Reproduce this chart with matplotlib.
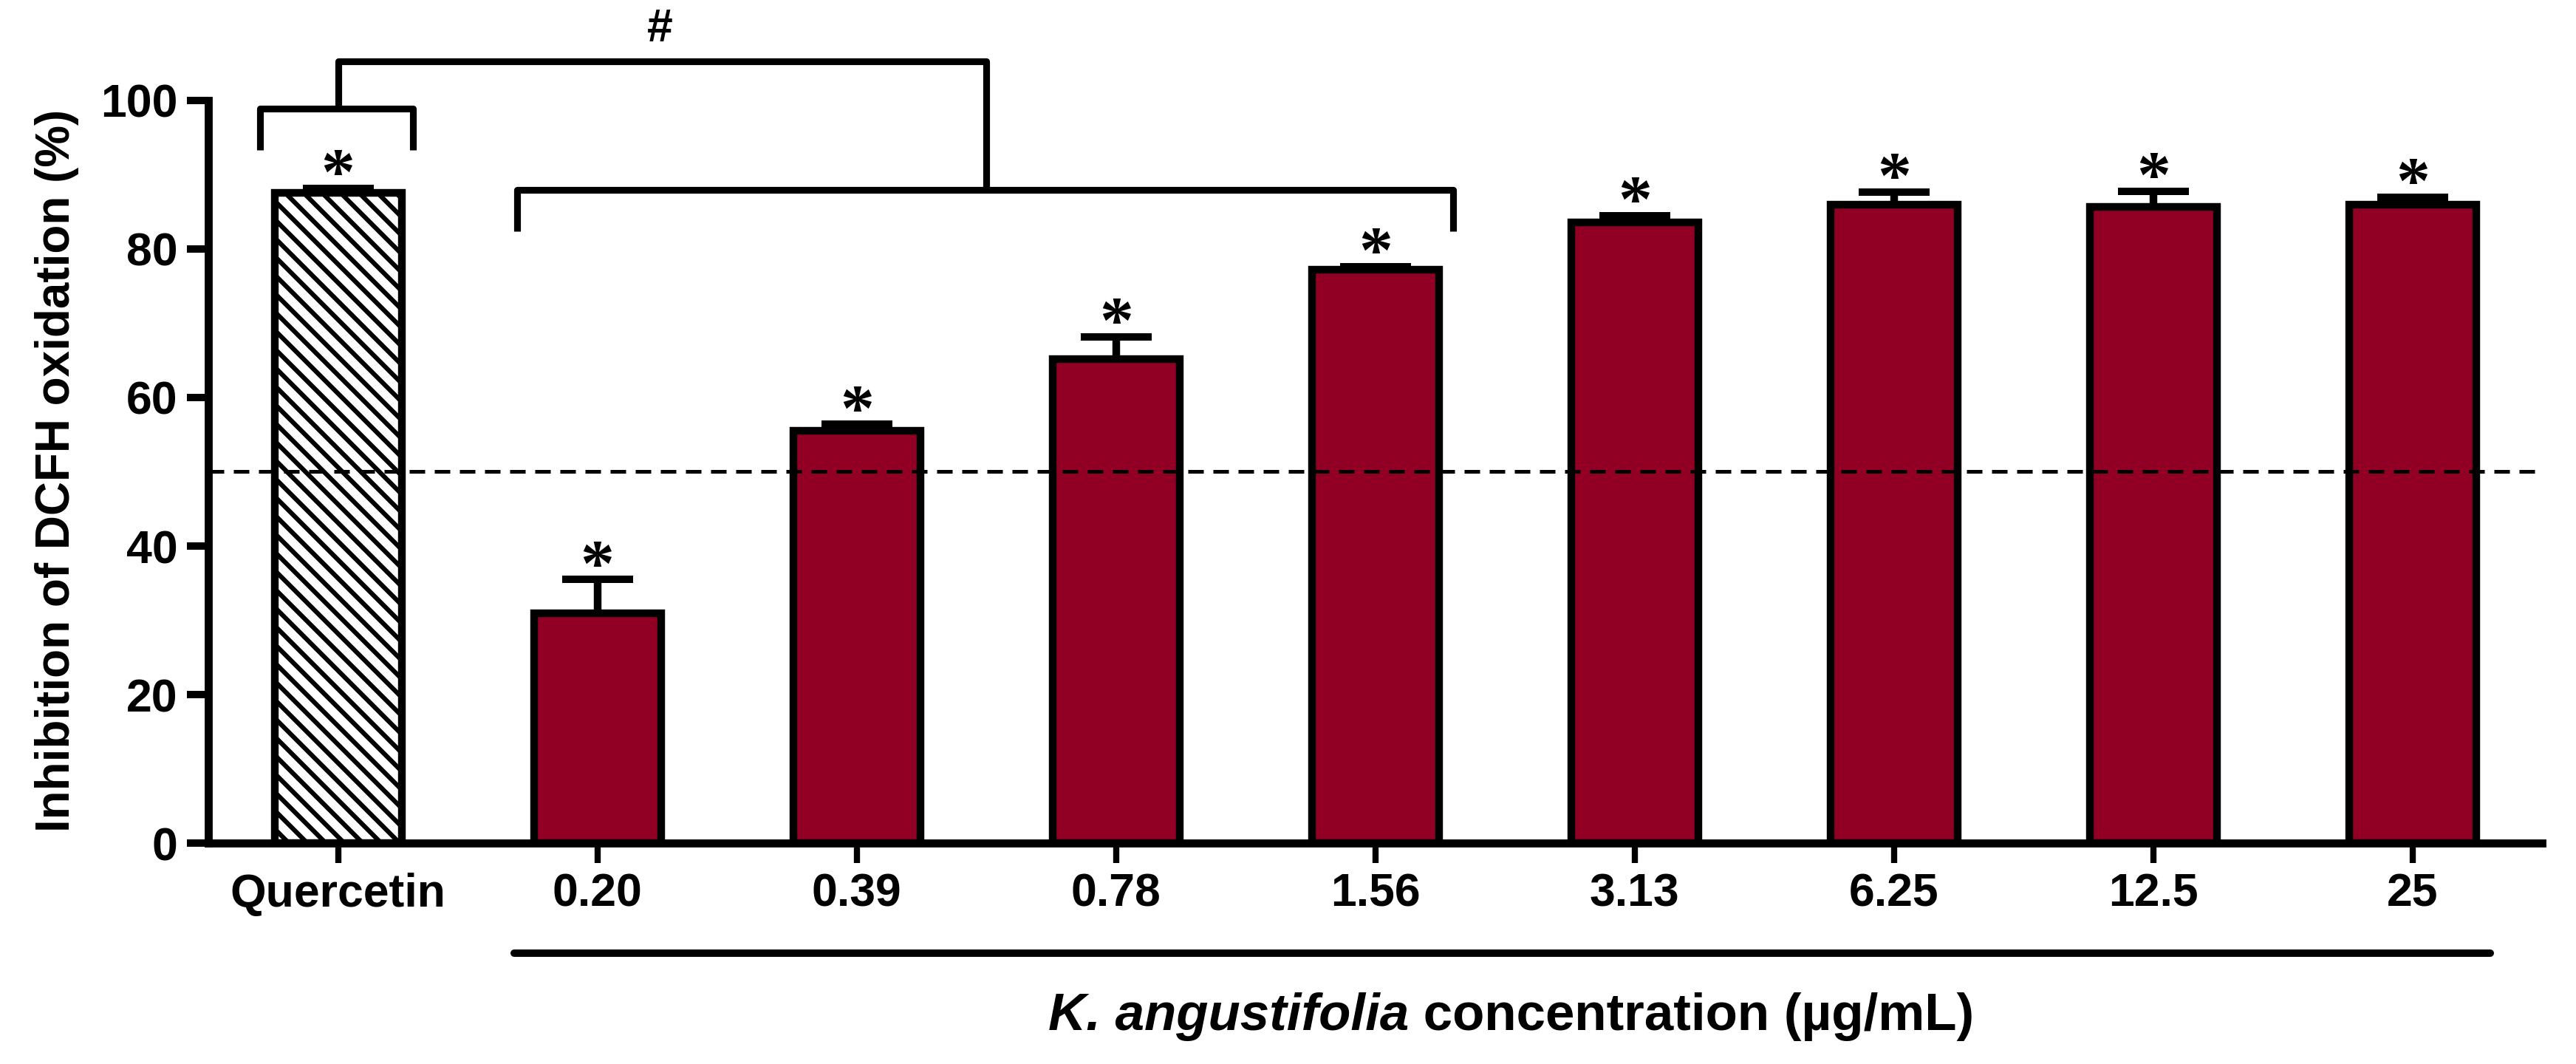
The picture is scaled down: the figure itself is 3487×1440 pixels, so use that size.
import numpy as np
import matplotlib.pyplot as plt

# data
groups = ['Quercetin', '0.20', '0.39', '0.78', '1.56', '3.13', '6.25', '12.5', '25']
inhibition = [87.6, 30.9, 55.5, 65.2, 77.2, 83.6, 86.0, 85.7, 86.0]
sem = [0.6, 4.6, 0.9, 3.0, 0.4, 0.9, 1.7, 2.1, 1.0]
threshold = 50

plt.rcParams['font.family'] = ['Liberation Sans', 'DejaVu Sans']
plt.rcParams['hatch.linewidth'] = 1.5

fig = plt.figure(figsize=(3487 / 300, 1440 / 300), dpi=300)
ax = fig.add_axes([0.0809, 0.2076, 0.9060, 0.6980])

x = np.arange(len(groups))
colors = ['white'] + ['#910024'] * (len(groups) - 1)
hatches = ['\\\\\\\\'] + [''] * (len(groups) - 1)

# error bars (upper only), drawn under the bars
ax.errorbar(x, inhibition, yerr=[np.zeros(len(sem)), sem], fmt='none',
            ecolor='black', elinewidth=2.5, capsize=11.5, capthick=2.4, zorder=1)
bars = ax.bar(x, inhibition, width=0.49, color=colors, edgecolor='black',
              linewidth=2.5, zorder=2)
for b, h in zip(bars, hatches):
    b.set_hatch(h)

# 50 % line
ax.axhline(threshold, color='black', lw=1.2, linestyle=(0, (4.2, 2.6)), zorder=3)

# significance stars
for xi, m, e in zip(x, inhibition, sem):
    ax.annotate('*', xy=(xi, m + e), xytext=(0, -2), textcoords='offset points',
                ha='center', va='baseline', fontsize=22, fontweight='bold',
                family='Liberation Serif', annotation_clip=False)

# brackets
blk = dict(color='black', lw=2.2, clip_on=False, solid_capstyle='butt')
ax.plot([-0.30, -0.30, 0.29, 0.29], [93.3, 98.9, 98.9, 93.3], **blk)
ax.plot([0.69, 0.69, 4.30, 4.30], [82.4, 88.0, 88.0, 82.4], **blk)
ax.plot([0.0, 0.0, 2.50, 2.50], [98.9, 105.3, 105.3, 88.0], **blk)
ax.text(1.24, 106.7, '#', ha='center', va='bottom', fontsize=15,
        fontweight='bold', clip_on=False)

# line under the extract concentrations
ax.plot([0.68, 8.30], [-14.8, -14.8], color='black', lw=2.4,
        solid_capstyle='round', clip_on=False)

ax.set_xlim(-0.5, 8.5)
ax.set_ylim(0, 100)
ax.set_yticks(np.arange(0, 101, 20))
ax.set_xticks(x)
ax.set_xticklabels(groups)
for s in ['top', 'right']:
    ax.spines[s].set_visible(False)
for s in ['left', 'bottom']:
    ax.spines[s].set_linewidth(2.6)
ax.tick_params(axis='y', length=7, width=2.4, labelsize=15, pad=3)
ax.tick_params(axis='x', length=6.5, width=2, labelsize=15, pad=3)
for lab in ax.get_xticklabels() + ax.get_yticklabels():
    lab.set_fontweight('bold')

fig.text(0.0221, 0.5576, 'Inhibition of DCFH oxidation (%)', rotation=90,
         ha='center', va='center', fontsize=15.3, fontweight='bold')

t1 = fig.text(0.4070, 0.0319, 'K. angustifolia', ha='left', va='baseline',
              fontsize=17, fontweight='bold', fontstyle='italic')
ax.annotate(' concentration (\u00b5g/mL)', xy=(1, 0), xycoords=t1,
            ha='left', va='bottom', fontsize=17, fontweight='bold',
            annotation_clip=False)

fig.savefig('out.png', dpi=300)
